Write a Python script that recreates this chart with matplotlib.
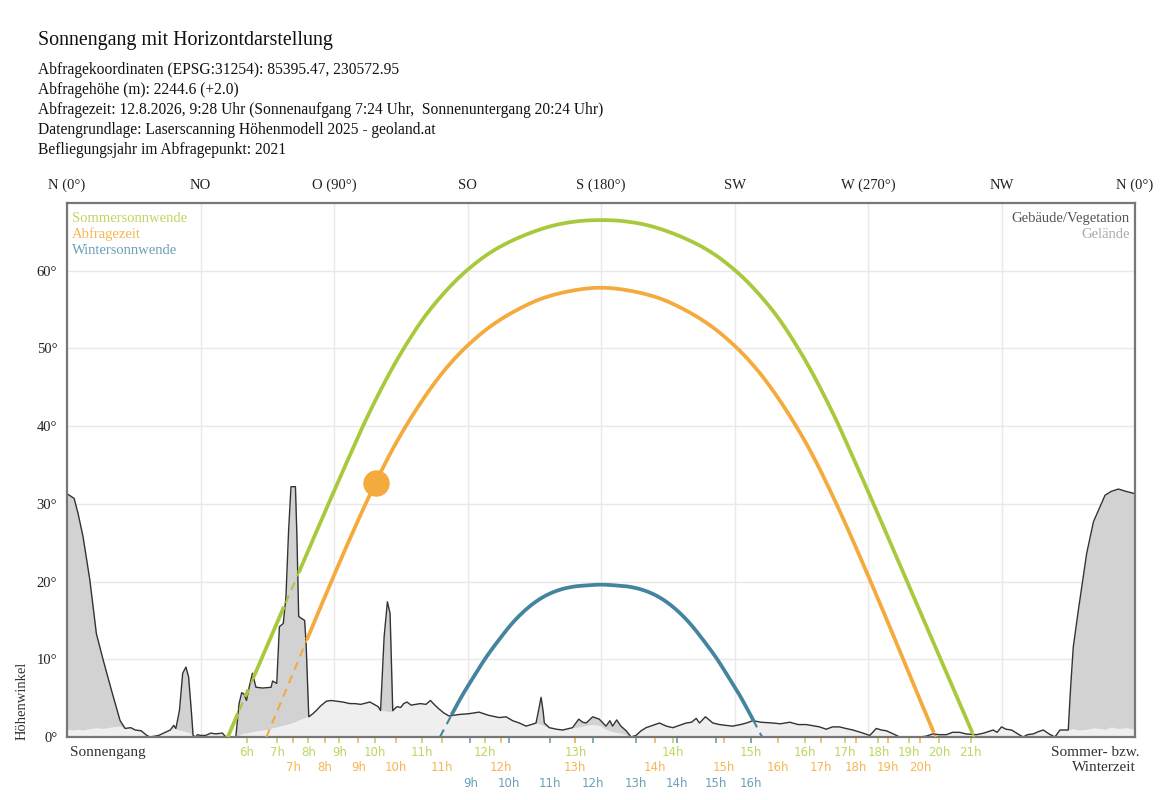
import matplotlib
matplotlib.use('Agg')
import matplotlib.pyplot as plt
import numpy as np

plt.rcParams['font.family'] = ['Liberation Serif', 'DejaVu Serif']

# Horizont: Azimut, Gebäude/Vegetation, Gelände (Grad)
horizont = np.array([
    [0.0, 31.3, 1.0], [2.4, 30.7, 0.9], [3.7, 28.8, 1.0], [5.4, 25.8, 0.9], [7.7, 20.2, 1.1],
    [9.9, 13.3, 1.2], [12.2, 9.9, 1.1], [15.0, 6.0, 1.3], [17.9, 2.1, 1.4], [19.6, 1.1, 1.1],
    [21.5, 1.2, 1.2], [23.0, 0.9, 0.9], [25.0, 0.8, 0.8], [26.9, 0.2, 0.2], [28.0, 0.0, 0.0],
    [30.9, 0.2, 0.2], [33.1, 0.6, 0.6], [34.8, 0.9, 0.9], [36.0, 1.5, 1.2], [36.7, 1.1, 1.0],
    [37.9, 3.4, 0.9], [39.0, 8.2, 0.8], [40.1, 9.0, 0.7], [41.0, 7.7, 0.6], [41.9, 3.4, 0.4],
    [42.5, 0.2, 0.2], [43.3, 0.0, 0.0], [44.0, 0.3, 0.3], [45.0, 0.2, 0.2], [46.7, 0.2, 0.2],
    [48.5, 0.5, 0.5], [50.1, 0.4, 0.4], [52.4, 0.5, 0.5], [53.5, 0.0, 0.0], [56.9, 0.0, 0.0],
    [58.0, 4.3, 0.3], [58.9, 5.7, 0.4], [59.7, 5.5, 0.5], [60.5, 4.7, 0.5], [61.4, 6.4, 0.6],
    [62.5, 8.2, 0.7], [63.7, 6.4, 0.8], [66.0, 6.3, 0.9], [68.8, 6.4, 1.1], [69.3, 7.2, 1.2],
    [70.7, 6.9, 1.3], [71.6, 14.2, 1.4], [72.9, 14.6, 1.5], [73.8, 18.0, 1.6], [74.7, 26.6, 1.7],
    [75.5, 32.2, 1.8], [77.0, 32.2, 2.0], [77.5, 25.8, 2.1], [78.1, 15.5, 2.2], [80.1, 15.0, 2.5],
    [80.6, 12.0, 2.6], [81.5, 2.6, 2.6], [82.9, 3.0, 3.0], [84.0, 3.4, 3.4], [85.5, 4.0, 4.0],
    [87.4, 4.6, 4.6], [89.0, 4.7, 4.7], [91.0, 4.6, 4.6], [93.0, 4.5, 4.5], [95.3, 4.3, 4.3],
    [97.0, 4.3, 4.3], [99.0, 4.2, 4.2], [101.0, 4.4, 4.4], [102.1, 4.5, 4.5], [103.5, 4.2, 4.2],
    [104.9, 3.9, 3.9], [105.7, 3.4, 3.4], [106.9, 12.9, 3.4], [108.0, 17.4, 3.3], [108.9, 15.9, 3.3],
    [109.8, 3.4, 3.3], [111.2, 3.9, 3.9], [112.5, 3.8, 3.8], [113.5, 4.3, 4.3], [114.6, 4.5, 4.5],
    [116.0, 4.1, 4.1], [117.5, 4.2, 4.2], [119.1, 4.3, 4.3], [121.0, 4.2, 4.2], [122.5, 4.7, 4.7],
    [124.0, 4.1, 4.1], [125.4, 3.6, 3.6], [127.0, 3.1, 3.1], [128.8, 2.7, 2.7], [132.2, 2.9, 2.9],
    [135.5, 3.0, 3.0], [138.9, 3.2, 3.2], [142.0, 2.8, 2.8], [145.7, 2.5, 2.5], [148.0, 2.6, 2.6],
    [150.2, 2.1, 2.1], [152.5, 1.8, 1.8], [154.7, 1.4, 1.4], [156.5, 1.6, 1.6], [158.1, 1.8, 1.8],
    [159.0, 3.5, 1.7], [159.8, 5.1, 1.6], [160.5, 3.3, 1.5], [160.9, 1.8, 1.4], [162.6, 1.2, 1.2],
    [165.0, 1.0, 1.0], [167.1, 0.9, 0.9], [170.4, 1.2, 1.2], [172.5, 2.3, 1.3], [173.8, 1.9, 1.4],
    [175.0, 1.8, 1.5], [177.2, 2.6, 1.6], [179.4, 2.3, 1.5], [181.7, 1.4, 1.0], [183.0, 2.1, 0.8],
    [183.9, 1.4, 0.7], [185.3, 2.2, 0.6], [186.7, 1.4, 0.5], [188.5, 0.8, 0.3], [190.1, 0.0, 0.0],
    [191.8, 0.2, 0.2], [193.5, 0.8, 0.8], [195.2, 1.2, 1.2], [197.5, 1.5, 1.5], [199.7, 1.8, 1.8],
    [202.0, 1.4, 1.4], [204.2, 1.2, 1.2], [206.5, 1.5, 1.5], [208.7, 1.8, 1.8], [210.5, 1.9, 1.9],
    [212.1, 2.4, 2.4], [213.2, 1.8, 1.8], [215.2, 2.6, 2.6], [217.7, 1.8, 1.8], [220.0, 1.6, 1.6],
    [222.0, 1.5, 1.5], [224.4, 1.4, 1.4], [227.0, 1.6, 1.6], [229.0, 1.8, 1.8], [231.2, 2.1, 2.1],
    [234.0, 1.9, 1.9], [237.9, 1.8, 1.8], [240.5, 1.7, 1.7], [243.6, 1.9, 1.9], [246.5, 1.6, 1.6],
    [249.2, 1.6, 1.6], [253.7, 1.3, 1.3], [255.9, 1.0, 1.0], [258.0, 1.3, 1.3], [260.4, 1.3, 1.3],
    [262.5, 1.1, 1.1], [264.9, 0.9, 0.9], [267.5, 0.6, 0.6], [270.6, 0.2, 0.2], [272.8, 1.1, 1.1],
    [274.5, 0.9, 0.9], [276.2, 0.8, 0.8], [278.5, 0.4, 0.4], [280.7, 0.0, 0.0], [284.0, 0.0, 0.0],
    [287.4, 0.0, 0.0], [289.5, 0.1, 0.1], [291.9, 0.4, 0.4], [294.0, 0.3, 0.3], [296.4, 0.3, 0.3],
    [298.5, 0.6, 0.6], [300.9, 0.6, 0.6], [303.0, 0.4, 0.4], [306.6, 0.3, 0.3], [309.0, 0.5, 0.5],
    [312.2, 0.9, 0.9], [313.5, 0.6, 0.6], [315.0, 1.3, 1.3], [316.5, 1.0, 1.0], [318.4, 0.9, 0.9],
    [320.5, 0.4, 0.4], [322.3, 0.0, 0.0], [323.8, 0.3, 0.3], [325.7, 0.4, 0.4], [327.5, 0.7, 0.7],
    [329.1, 0.9, 0.9], [331.0, 0.4, 0.4], [333.0, 0.0, 0.0], [334.7, 0.9, 0.9], [337.5, 0.9, 0.9],
    [338.3, 6.4, 1.0], [339.2, 11.6, 1.1], [340.9, 16.3, 0.9], [343.7, 23.6, 1.0], [346.0, 27.7, 1.2],
    [349.9, 31.1, 1.0], [352.0, 31.6, 1.3], [354.4, 31.9, 1.1], [357.0, 31.6, 1.2], [360.0, 31.3, 1.0],
])
hor_az = horizont[:, 0]
hor_el = horizont[:, 1]
gel_el = horizont[:, 2]

# Sonnenbahnen (Azimut, Höhe)
sommer_az = [54.2, 62.0, 70.0, 80.0, 87.0, 96.0, 102.0, 109.0, 115.0, 121.0, 128.0, 135.0, 143.0, 152.0,
             162.0, 171.0, 180.0, 189.0, 198.0, 208.0, 217.0, 225.0, 232.0, 239.0, 245.0, 251.0, 258.0,
             264.0, 273.0, 280.0, 290.0, 298.0, 305.8]
sommer_el = [0.0, 6.9, 14.0, 22.8, 29.0, 36.8, 41.8, 47.0, 50.9, 54.3, 57.5, 60.1, 62.4, 64.2,
             65.6, 66.3, 66.5, 66.3, 65.6, 64.2, 62.4, 60.1, 57.5, 54.3, 50.9, 47.0, 41.8,
             36.8, 29.0, 22.8, 14.0, 6.9, 0.0]

abfrage_az = [67.2, 75.0, 85.0, 95.0, 103.0, 110.0, 117.0, 124.0, 130.0, 136.0, 143.0, 151.0, 160.0,
              170.0, 180.0, 190.0, 200.0, 209.0, 217.0, 224.0, 230.0, 236.0, 243.0, 250.0, 257.0,
              265.0, 275.0, 285.0, 292.8]
abfrage_el = [0.0, 7.1, 16.3, 25.2, 31.9, 37.2, 41.7, 45.6, 48.4, 50.7, 52.9, 54.8, 56.4,
              57.4, 57.8, 57.4, 56.4, 54.8, 52.9, 50.7, 48.4, 45.6, 41.7, 37.2, 31.9,
              25.2, 16.3, 7.1, 0.0]

winter_az = [125.7, 129.0, 133.0, 137.0, 141.0, 145.0, 150.0, 155.0, 160.0, 165.0, 170.0, 175.0, 180.0,
             185.0, 190.0, 195.0, 200.0, 205.0, 210.0, 215.0, 219.0, 223.0, 227.0, 231.0, 234.3]
winter_el = [0.0, 2.4, 5.2, 7.7, 10.1, 12.2, 14.6, 16.5, 17.9, 18.8, 19.3, 19.5, 19.6,
             19.5, 19.3, 18.8, 17.9, 16.5, 14.6, 12.2, 10.1, 7.7, 5.2, 2.4, 0.0]

# aktuelle Sonnenposition
sonne_az, sonne_el = 104.0, 32.7

# Stundenmarken (Azimut je Stunde)
sommer_h = [6, 7, 8, 9, 10, 11, 12, 13, 14, 15, 16, 17, 18, 19, 20, 21]
sommer_h_az = [60.6, 70.9, 81.3, 91.8, 103.8, 119.5, 140.9, 171.4, 204.4, 230.4, 248.7, 262.2,
               273.5, 283.9, 294.0, 304.6]
abfrage_h = [7, 8, 9, 10, 11, 12, 13, 14, 15, 16, 17, 18, 19, 20]
abfrage_h_az = [76.3, 87.0, 98.2, 110.9, 126.3, 146.3, 171.2, 198.2, 221.4, 239.7, 254.0, 265.9,
                276.8, 287.5]
winter_h = [9, 10, 11, 12, 13, 14, 15, 16]
winter_h_az = [136.0, 149.1, 162.8, 177.2, 191.7, 205.5, 218.7, 230.4]

richtungen = ['N (0°)', 'NO', 'O (90°)', 'SO', 'S (180°)', 'SW', 'W (270°)', 'NW', 'N (0°)']

gruen = '#a9c93c'
orange = '#f4aa3c'
blau = '#44849f'
gruen_h = '#bcd760'
orange_h = '#f7b655'
blau_h = '#6c9fb8'

fig = plt.figure(figsize=(11.67, 8.0), dpi=100)
ax = fig.add_axes([67/1167, 1-737/800, (1135-67)/1167, (737-203)/800])

ax.fill_between(hor_az, hor_el, 0, color='#d2d2d2', lw=0, zorder=1)
ax.fill_between(hor_az, gel_el, 0, color='#efefef', lw=0, zorder=1.5)
ax.plot(hor_az, hor_el, color='#333333', lw=1.0, zorder=2)


def glatt(x, y, n=25):
    p = np.column_stack([x, y]).astype(float)
    p = np.vstack([2 * p[0] - p[1], p, 2 * p[-1] - p[-2]])
    t = np.linspace(0, 1, n, endpoint=False)[:, None]
    teile = []
    for i in range(1, len(p) - 2):
        p0, p1, p2, p3 = p[i - 1], p[i], p[i + 1], p[i + 2]
        teile.append(0.5 * ((2 * p1) + (-p0 + p2) * t + (2 * p0 - 5 * p1 + 4 * p2 - p3) * t**2
                            + (-p0 + 3 * p1 - 3 * p2 + p3) * t**3))
    teile.append(p[-2][None, :])
    k = np.vstack(teile)
    return k[:, 0], np.clip(k[:, 1], 0, None)


def bahn(az, el, farbe):
    fa, fe = glatt(az, el)
    fh = np.interp(fa, hor_az, hor_el)
    ax.plot(fa, fe, color=farbe, lw=1.5, ls=(0, (4, 3)), zorder=3)
    sichtbar = np.where(fe >= fh, fe, np.nan)
    ax.plot(fa, sichtbar, color=farbe, lw=2.7, solid_capstyle='butt', zorder=4)


bahn(sommer_az, sommer_el, gruen)
bahn(abfrage_az, abfrage_el, orange)
bahn(winter_az, winter_el, blau)
ax.plot(sonne_az, sonne_el, 'o', color=orange, ms=19, mec='none', zorder=5)

ax.set_xlim(0, 360)
ax.set_ylim(0, 68.7)
ax.set_yticks(range(0, 70, 10))
ax.set_yticklabels([f'{v}°' for v in range(0, 70, 10)], fontsize=10.5, color='#222222')
ax.xaxis.tick_top()
ax.set_xticks(range(0, 361, 45))
ax.set_xticklabels(richtungen, fontsize=10.5, color='#222222')
ax.tick_params(axis='both', length=0)
ax.tick_params(axis='x', pad=8)
ax.tick_params(axis='y', pad=7)
ax.grid(True, color='#e9e9e9', lw=1.0, zorder=0)
ax.set_axisbelow(True)
for s in ax.spines.values():
    s.set_color('#777777')
    s.set_linewidth(1.6)

# Stundenmarken unter der Achse
trans = ax.get_xaxis_transform()
for stunden, azs, farbe, zeile in [(sommer_h, sommer_h_az, gruen_h, -0.029),
                                   (abfrage_h, abfrage_h_az, orange_h, -0.058),
                                   (winter_h, winter_h_az, blau_h, -0.087)]:
    ax.vlines(azs, -0.012, 0, color=farbe, lw=1.2, transform=trans, clip_on=False)
    for h, a in zip(stunden, azs):
        ax.text(a, zeile, f'{h}h', transform=trans, ha='center', va='center',
                fontsize=8.5, color=farbe, family='DejaVu Sans')

ax.text(0.003, -0.029, 'Sonnengang', transform=ax.transAxes, ha='left', va='center',
        fontsize=11, color='#333333')
ax.text(1.004, -0.029, 'Sommer- bzw.', transform=ax.transAxes, ha='right', va='center',
        fontsize=11, color='#333333')
ax.text(1.001, -0.058, 'Winterzeit', transform=ax.transAxes, ha='right', va='center',
        fontsize=11, color='#333333')

# Legenden im Diagramm
ax.text(0.005, 0.971, 'Sommersonnwende', transform=ax.transAxes, fontsize=10.5, color=gruen_h, va='center')
ax.text(0.005, 0.941, 'Abfragezeit', transform=ax.transAxes, fontsize=10.5, color=orange_h, va='center')
ax.text(0.005, 0.911, 'Wintersonnwende', transform=ax.transAxes, fontsize=10.5, color=blau_h, va='center')
ax.text(0.995, 0.971, 'Gebäude/Vegetation', transform=ax.transAxes, fontsize=10.5, color='#555555',
        ha='right', va='center')
ax.text(0.995, 0.941, 'Gelände', transform=ax.transAxes, fontsize=10.5, color='#aaaaaa',
        ha='right', va='center')

fig.text(22/1167, 60/800, 'Höhenwinkel', rotation=90, ha='center', va='bottom', fontsize=10.5,
         color='#333333')

# Kopfzeilen
fig.text(38/1167, 1-40/800, 'Sonnengang mit Horizontdarstellung', fontsize=14.4, va='center', color='#111111')
kopf = ['Abfragekoordinaten (EPSG:31254): 85395.47, 230572.95',
        'Abfragehöhe (m): 2244.6 (+2.0)',
        'Abfragezeit: 12.8.2026, 9:28 Uhr (Sonnenaufgang 7:24 Uhr,  Sonnenuntergang 20:24 Uhr)',
        'Datengrundlage: Laserscanning Höhenmodell 2025 - geoland.at',
        'Befliegungsjahr im Abfragepunkt: 2021']
for i, zeile in enumerate(kopf):
    fig.text(38/1167, 1-(70+20*i)/800, zeile, fontsize=11.2, va='center', color='#111111')

fig.savefig('out.png', dpi=100)
